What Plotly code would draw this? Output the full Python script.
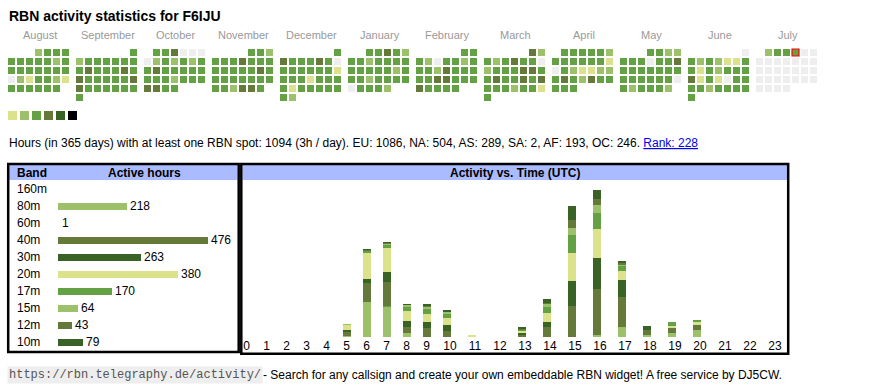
import datetime as dt
import plotly.graph_objects as go

# ---------------- data ----------------
CALLSIGN = "F6IJU"
month_names = ["August", "September", "October", "November", "December", "January",
               "February", "March", "April", "May", "June", "July"]
month_years = [2024, 2024, 2024, 2024, 2024, 2025, 2025, 2025, 2025, 2025, 2025, 2025]
month_nums = [8, 9, 10, 11, 12, 1, 2, 3, 4, 5, 6, 7]

# daily activity level (0 = no spot, 1..6 = legend colour index), one list per month
aug = [2, 3, 3, 3, 3, 3, 3, 3, 3, 2, 3, 3, 3, 3, 3, 3, 3, 3, 0, 2, 1, 3, 3, 2, 1, 3, 3, 3, 3, 3, 3]
sep = [3, 2, 3, 3, 3, 3, 3, 3, 3, 4, 3, 3, 3, 4, 3, 4, 3, 3, 3, 3, 3, 4, 4, 3, 3, 3, 3, 3, 3, 3]
oct_ = [3, 3, 4, 0, 0, 0, 0, 2, 3, 2, 3, 2, 3, 3, 4, 3, 3, 3, 3, 3, 3, 3, 3, 2, 3, 3, 3, 4, 4, 3, 3]
nov = [3, 3, 2, 3, 3, 3, 4, 3, 3, 3, 3, 3, 3, 3, 3, 4, 3, 3, 3, 3, 3, 3, 3, 3, 3, 3, 2, 4, 4, 3]
dec = [3, 4, 3, 3, 3, 4, 3, 0, 3, 3, 3, 3, 3, 3, 1, 3, 3, 3, 1, 3, 3, 3, 3, 1, 3, 3, 3, 3, 3, 3, 2]
jan = [3, 3, 4, 3, 2, 3, 3, 2, 3, 3, 3, 3, 3, 3, 3, 3, 3, 2, 3, 3, 3, 2, 3, 3, 3, 3, 0, 3, 3, 3, 2]
feb = [3, 3, 3, 2, 0, 3, 3, 2, 3, 3, 3, 2, 4, 3, 3, 3, 3, 3, 4, 4, 3, 3, 3, 4, 3, 3, 3, 3]
mar = [4, 2, 3, 2, 3, 4, 3, 3, 0, 2, 3, 3, 3, 4, 4, 3, 3, 4, 3, 3, 4, 3, 4, 3, 3, 3, 2, 3, 3, 1, 3]
apr = [3, 3, 3, 3, 3, 2, 3, 3, 3, 3, 3, 3, 1, 0, 3, 2, 1, 1, 2, 2, 3, 4, 3, 2, 4, 3, 3, 3, 3, 3]
may = [3, 3, 2, 2, 3, 3, 3, 0, 3, 3, 4, 3, 3, 3, 3, 3, 3, 3, 3, 3, 3, 3, 3, 3, 0, 3, 2, 3, 3, 3, 2]
jun = [0, 3, 2, 3, 2, 1, 1, 3, 3, 1, 3, 2, 3, 3, 3, 4, 1, 3, 1, 0, 3, 3, 3, 3, 2, 3, 3, 3, 3, 3]
jul = [2, 3, 3, 3, 0, 0, 0, 0, 0, 0, 0, 0, 0, 0, 0, 0, 0, 0, 0, 0, 0, 0, 0, 0, 0, 0, 0, 0, 0, 0, 0]
daily_levels = [aug, sep, oct_, nov, dec, jan, feb, mar, apr, may, jun, jul]
today = dt.date(2025, 7, 4)

level_colors = ["#eeeeee", "#dbe28b", "#9dc16a", "#64a044", "#65793a", "#386324", "#000000"]

# summary line
hours_total = 1094
hours_per_day = 3
cont_names = ["EU", "NA", "AS", "SA", "AF", "OC"]
cont_hours = [1086, 504, 289, 2, 193, 246]
rank = 228

# bands
bands = ["160m", "80m", "60m", "40m", "30m", "20m", "17m", "15m", "12m", "10m"]
band_hours = [0, 218, 1, 476, 263, 380, 170, 64, 43, 79]
band_colors = ["#dbe28b", "#9dc16a", "#64a044", "#65793a", "#386324",
               "#dbe28b", "#64a044", "#9dc16a", "#65793a", "#386324"]

# activity vs time (UTC): hours per band in each UTC hour
hour_labels = ["0", "1", "2", "3", "4", "5", "6", "7", "8", "9", "10", "11",
               "12", "13", "14", "15", "16", "17", "18", "19", "20", "21", "22", "23"]
h160 = [0, 0, 0, 0, 0, 0, 0, 0, 0, 0, 0, 0, 0, 0, 0, 0, 0, 0, 0, 0, 0, 0, 0, 0]
h80 = [0, 0, 0, 0, 0, 2, 80, 70, 9, 0, 0, 0, 0, 0, 0, 0, 5, 22, 5, 9, 16, 0, 0, 0]
h60 = [0, 0, 0, 0, 0, 0, 0, 1, 0, 0, 0, 0, 0, 0, 0, 0, 0, 0, 0, 0, 0, 0, 0, 0]
h40 = [0, 0, 0, 0, 0, 11, 45, 57, 14, 21, 15, 0, 0, 6, 23, 72, 106, 71, 12, 12, 11, 0, 0, 0]
h30 = [0, 0, 0, 0, 0, 3, 10, 22, 14, 13, 13, 0, 0, 4, 12, 57, 71, 38, 6, 0, 0, 0, 0, 0]
h20 = [0, 0, 0, 0, 0, 12, 59, 56, 23, 18, 16, 5, 0, 5, 21, 64, 68, 21, 0, 5, 7, 0, 0, 0]
h17 = [0, 0, 0, 0, 0, 1, 5, 8, 10, 13, 11, 0, 0, 2, 13, 43, 36, 13, 0, 9, 6, 0, 0, 0]
h15 = [0, 0, 0, 0, 0, 1, 1, 3, 4, 5, 4, 0, 0, 1, 8, 15, 19, 3, 0, 0, 0, 0, 0, 0]
h12 = [0, 0, 0, 0, 0, 0, 1, 1, 1, 1, 1, 0, 0, 1, 2, 20, 13, 2, 0, 0, 0, 0, 0, 0]
h10 = [0, 0, 0, 0, 0, 0, 1, 1, 1, 5, 2, 0, 0, 2, 8, 31, 22, 5, 1, 0, 0, 0, 0, 0]
hourly = [h160, h80, h60, h40, h30, h20, h17, h15, h12, h10]
DAYS = 365

# ---------------- layout helpers ----------------
W, H = 870, 390
FONT = "Liberation Sans, Arial, sans-serif"
BLOCK0, BLOCK_STEP, CELL_STEP, CAL_TOP = 8, 68, 9, 49
BAR_PX = 150  # pixel length of the longest band bar

fig = go.Figure()

# calendar cells
cx, cy, cc, lw = [], [], [], []
for m, lv in enumerate(daily_levels):
    first = dt.date(month_years[m], month_nums[m], 1)
    w0 = first.weekday()
    for d, level in enumerate(lv):
        idx = w0 + d
        cx.append(BLOCK0 + BLOCK_STEP * m + CELL_STEP * (idx % 7) + 3.5)
        cy.append(CAL_TOP + CELL_STEP * (idx // 7) + 3.5)
        cc.append(level_colors[level])
        date = dt.date(month_years[m], month_nums[m], d + 1)
        lw.append(1.2 if date == today else 0)
fig.add_trace(go.Scatter(
    x=cx, y=cy, mode="markers", xaxis="x", yaxis="y", hoverinfo="skip",
    marker=dict(symbol="square", size=7, color=cc,
                line=dict(width=lw, color="#ff0000"))))

# legend squares
fig.add_trace(go.Scatter(
    x=[8 + 12 * i + 4.5 for i in range(0, 6)], y=[115.5] * 6, mode="markers",
    xaxis="x", yaxis="y", hoverinfo="skip",
    marker=dict(symbol="square", size=9, color=level_colors[1:], line=dict(width=0))))

# band bars (a bar shorter than one pixel is not drawn, as in the html table)
vmax = max(band_hours)
fig.add_trace(go.Bar(
    x=band_hours, y=list(range(len(bands))), orientation="h", xaxis="x2", yaxis="y2",
    marker=dict(color=band_colors, line=dict(width=0),
                opacity=[1 if v * BAR_PX / vmax >= 1 else 0 for v in band_hours]),
    width=0.41,
    text=[str(v) if v > 0 else "" for v in band_hours], textposition="outside",
    constraintext="none", cliponaxis=False,
    textfont=dict(size=12, color="#000000", family=FONT), hoverinfo="skip"))

# hourly stacked bars: html-table-like column layout (narrow columns for 1-digit labels)
col_left, left = [], 240.0
for lab in hour_labels:
    col_left.append(left)
    left += 15 + 5 * len(lab)
bar_x = [c + 7.15 for c in col_left]
tick_x = [c + 3.3 + 3.35 * len(lab) for c, lab in zip(col_left, hour_labels)]
for b, vals, col in zip(bands, hourly, band_colors):
    fig.add_trace(go.Bar(
        x=bar_x, y=vals, xaxis="x3", yaxis="y3", width=7.7, name=b,
        marker=dict(color=col, line=dict(width=0)), hoverinfo="skip"))

# ---------------- text ----------------
ann = []
ann.append(dict(x=6.5, y=15.5, text="<b>RBN activity statistics for %s</b>" % CALLSIGN,
                font=dict(size=14, color="#000000"), xanchor="left", yanchor="middle"))
for m, name in enumerate(month_names):
    ann.append(dict(x=BLOCK0 + BLOCK_STEP * m + 31.5, y=35, text=name,
                    font=dict(size=11, color="#999999"), xanchor="center", yanchor="middle"))
cont = ", ".join("%s: %d" % (n, v) for n, v in zip(cont_names, cont_hours))
info = ("Hours (in %d days) with at least one RBN spot: %d (%dh / day). %s. "
        % (DAYS, hours_total, hours_per_day, cont)
        + "<span style='color:#0000ee'><u>Rank: %d</u></span>" % rank)
ann.append(dict(x=6.5, y=142.5, text=info, font=dict(size=12, color="#000000"),
                xanchor="left", yanchor="middle"))
ann.append(dict(x=14.5, y=173, text="<b>Band</b>", font=dict(size=12, color="#000000"),
                xanchor="left", yanchor="middle"))
ann.append(dict(x=144.5, y=173, text="<b>Active hours</b>", font=dict(size=12, color="#000000"),
                xanchor="center", yanchor="middle"))
ann.append(dict(x=515, y=173, text="<b>Activity vs. Time (UTC)</b>",
                font=dict(size=12, color="#000000"), xanchor="center", yanchor="middle"))
for i, b in enumerate(bands):
    ann.append(dict(xref="paper", yref="y2", x=14.5 / W, y=i, text=b,
                    font=dict(size=12, color="#000000"), xanchor="left", yanchor="middle"))
ann.append(dict(x=7, y=374.5, text="https://rbn.telegraphy.de/activity/",
                font=dict(size=12, color="#555555", family="Liberation Mono, monospace"),
                bgcolor="#eeeeee", borderpad=1, xanchor="left", yanchor="middle"))
ann.append(dict(x=261, y=374.5,
                text="- Search for any callsign and create your own embeddable RBN widget! "
                     "A free service by DJ5CW.",
                font=dict(size=12, color="#000000"), xanchor="left", yanchor="middle"))
for a in ann:
    a.setdefault("xref", "x")
    a.setdefault("yref", "y")
    a["showarrow"] = False

shapes = [
    dict(type="rect", x0=9, x1=237.5, y0=165, y1=180, fillcolor="#aabbff", line=dict(width=0), layer="below"),
    dict(type="rect", x0=242.5, x1=787, y0=165, y1=180, fillcolor="#aabbff", line=dict(width=0), layer="below"),
    dict(type="rect", x0=8.2, x1=238.7, y0=164, y1=352, line=dict(color="#000000", width=2.5)),
    dict(type="rect", x0=241.3, x1=788.2, y0=164, y1=353.8, line=dict(color="#000000", width=2.5)),
]
for s in shapes:
    s["xref"] = "x"
    s["yref"] = "y"

hidden = dict(visible=False, fixedrange=True)
fig.update_layout(
    width=W, height=H, autosize=False, margin=dict(l=0, r=0, t=0, b=0, pad=0),
    paper_bgcolor="#ffffff", plot_bgcolor="rgba(0,0,0,0)",
    font=dict(family=FONT, size=12, color="#000000"),
    showlegend=False, barmode="stack", bargap=0,
    xaxis=dict(domain=[0, 1], range=[0, W], **hidden),
    yaxis=dict(domain=[0, 1], range=[H, 0], **hidden),
    xaxis2=dict(domain=[58 / W, (58 + BAR_PX) / W], range=[0, vmax], anchor="y2", **hidden),
    yaxis2=dict(domain=[(H - 350.5) / H, (H - 180.5) / H], range=[len(bands) - 0.5, -0.5],
                anchor="x2", **hidden),
    xaxis3=dict(domain=[240 / W, 790 / W], range=[240, 790], anchor="y3",
                tickmode="array", tickvals=tick_x, ticktext=hour_labels, ticks="",
                showgrid=False, zeroline=False, showline=False, fixedrange=True,
                tickfont=dict(size=12, color="#000000")),
    yaxis3=dict(domain=[(H - 337) / H, (H - 179) / H], range=[0, DAYS], anchor="x3", **hidden),
    annotations=ann, shapes=shapes,
)

fig.write_html("out.html", config={"displayModeBar": False},
               post_script="document.body.style.margin='0';document.body.style.overflow='hidden';")
